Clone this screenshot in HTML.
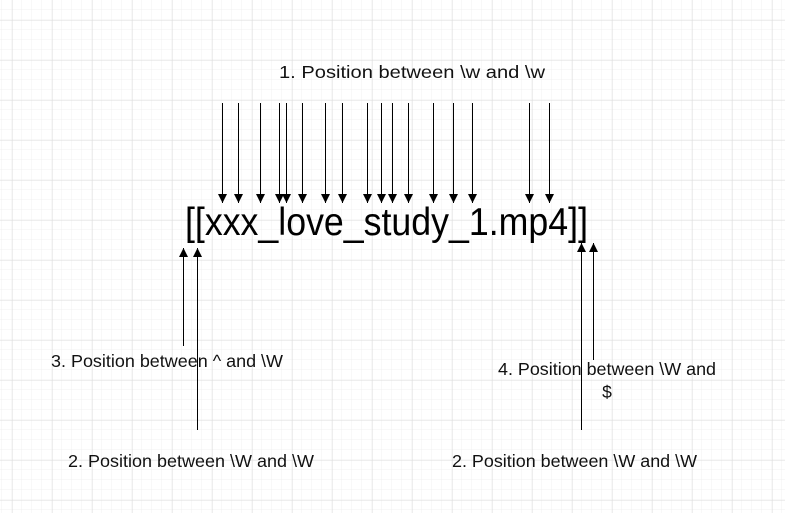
<!DOCTYPE html>
<html><head><meta charset="utf-8"><style>
html,body{margin:0;padding:0;background:#fff;}
svg{display:block;font-family:"Liberation Sans",Arial,sans-serif;}
</style></head><body>
<svg id="c" width="785" height="513" viewBox="0 0 785 513">
<defs>
<pattern id="minor" width="10" height="10" patternUnits="userSpaceOnUse" x="2" y="0">
<path d="M10 0V10M0 10H10" stroke="#f0f0f0" stroke-width="1" fill="none"/>
</pattern>
<pattern id="major" width="40" height="40" patternUnits="userSpaceOnUse" x="12.5" y="20.5">
<path d="M0 0V40M0 0H40" stroke="#dcdcdc" stroke-width="1" fill="none"/>
</pattern>
<marker id="ah" viewBox="0 0 10 10" refX="10" refY="5" markerWidth="9" markerHeight="9" markerUnits="userSpaceOnUse" orient="auto">
<path d="M0 0L10 5L0 10z" fill="#000"/>
</marker>
</defs>
<rect width="785" height="513" fill="url(#minor)"/>
<rect width="785" height="513" fill="url(#major)"/>
<g id="arrows"></g>
<text x="279" y="78" font-size="17.5" textLength="266" lengthAdjust="spacingAndGlyphs" fill="#111">1. Position between \w and \w</text>
<text x="185" y="235" font-size="39" textLength="403" lengthAdjust="spacingAndGlyphs" fill="#000">[[xxx_love_study_1.mp4]]</text>
<text x="51" y="367" font-size="17.5" textLength="232" lengthAdjust="spacingAndGlyphs" fill="#111">3. Position between ^ and \W</text>
<text x="68" y="467" font-size="17.5" textLength="246" lengthAdjust="spacingAndGlyphs" fill="#111">2. Position between \W and \W</text>
<text x="452" y="467" font-size="17.5" textLength="245" lengthAdjust="spacingAndGlyphs" fill="#111">2. Position between \W and \W</text>
<text x="498" y="375" font-size="17.5" textLength="218" lengthAdjust="spacingAndGlyphs" fill="#111">4. Position between \W and</text>
<text x="607" y="398" font-size="17.5" text-anchor="middle" fill="#111">$</text>
</svg>
<script>
const downX = [222,238,260,279,286,302,325,342,367,381,392,408,433,453,472,529,549];
const downTop = 103, downBottom = 203;
const upX = [183,197,581,593];
const upFrom = [346,430,430,360];
const upTo = [248,248,243,243];
const g = document.getElementById('arrows');
function line(x1,y1,x2,y2){
  const l = document.createElementNS('http://www.w3.org/2000/svg','line');
  l.setAttribute('x1',x1);l.setAttribute('y1',y1);l.setAttribute('x2',x2);l.setAttribute('y2',y2);
  l.setAttribute('stroke','#000');l.setAttribute('stroke-width','1');
  l.setAttribute('marker-end','url(#ah)');
  g.appendChild(l);
  return l;
}
downX.forEach(x=>{
  const l = line(x+0.5,downTop,x+0.5,downBottom);
  
  
});
upX.forEach((x,i)=>{
  const l = line(x+0.5,upFrom[i],x+0.5,upTo[i]);
  
  
});
</script>
</body></html>
